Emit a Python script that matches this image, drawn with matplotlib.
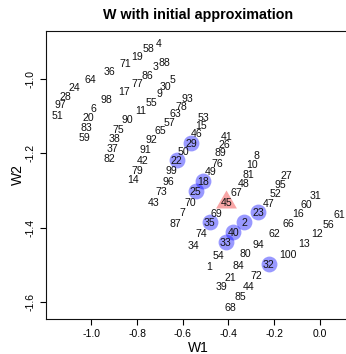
import matplotlib
matplotlib.use("Agg")
import matplotlib.pyplot as plt
from matplotlib.path import Path

plt.rcParams['font.family'] = ['Liberation Sans', 'DejaVu Sans']

# Coordinates of the 100 units (index i -> unit i+1)
w1 = [-0.485, -0.331, -0.721, -0.706, -0.643, -0.993, -0.601, -0.276, -0.703, -0.295,
      -0.785, -0.011, -0.069, -0.818, -0.521, -0.095, -0.859, -0.512, -0.800, -1.014,
      -0.390, -0.626, -0.269, -1.076, -0.543, -0.419, -0.145, -1.112, -0.563, -0.677,
      -0.021, -0.223, -0.412, -0.553, -0.483, -0.920, -0.908, -0.898, -0.429, -0.379,
      -0.407, -0.775, -0.726, -0.312, -0.410, -0.538, -0.225, -0.332, -0.480, -0.597,
      -1.148, -0.194, -0.510, -0.444, -0.738, 0.038, -0.658, -0.752, -1.032, -0.060,
      0.086, -0.197, -0.633, -1.004, -0.699, -0.138, -0.364, -0.393, -0.451, -0.568,
      -0.850, -0.276, -0.693, -0.517, -0.881, -0.451, -0.800, -0.607, -0.798, -0.326,
      -0.314, -0.920, -1.022, -0.357, -0.349, -0.757, -0.633, -0.680, -0.434, -0.843,
      -0.764, -0.738, -0.579, -0.269, -0.171, -0.665, -1.135, -0.934, -0.648, -0.142]
w2 = [-1.502, -1.385, -0.966, -0.903, -1.001, -1.078, -1.358, -1.206, -1.038, -1.229,
      -1.085, -1.413, -1.440, -1.269, -1.125, -1.360, -1.032, -1.274, -0.938, -1.103,
      -1.531, -1.219, -1.358, -1.023, -1.302, -1.176, -1.259, -1.047, -1.172, -1.019,
      -1.311, -1.498, -1.438, -1.446, -1.385, -0.979, -1.185, -1.158, -1.557, -1.412,
      -1.154, -1.217, -1.330, -1.557, -1.331, -1.147, -1.333, -1.280, -1.249, -1.194,
      -1.098, -1.307, -1.103, -1.473, -1.062, -1.389, -1.116, -0.918, -1.157, -1.335,
      -1.364, -1.413, -1.093, -1.000, -1.139, -1.387, -1.303, -1.613, -1.360, -1.330,
      -0.958, -1.527, -1.301, -1.415, -1.134, -1.225, -1.012, -1.074, -1.244, -1.469,
      -1.256, -1.212, -1.130, -1.501, -1.584, -0.989, -1.387, -0.956, -1.198, -1.109,
      -1.189, -1.163, -1.052, -1.444, -1.282, -1.274, -1.069, -1.054, -1.245, -1.470]
unit_labels = [str(i + 1) for i in range(len(w1))]

# Units picked as the initial approximation, and the starting unit
initial_units = [29, 22, 18, 25, 35, 40, 33, 2, 23, 32]
start_unit = 45

x_ticks = [-1.0, -0.8, -0.6, -0.4, -0.2, 0.0]
y_ticks = [-1.6, -1.4, -1.2, -1.0]

# Filled triangle centred on its centroid
tri = Path([(0, 1.0), (-0.866, -0.5), (0.866, -0.5), (0, 1.0)],
           [Path.MOVETO, Path.LINETO, Path.LINETO, Path.CLOSEPOLY])

W, H = 346, 354
fig = plt.figure(figsize=(W / 100, H / 100), dpi=100)
left, right, top, bottom = 46, 350, 31, 319
ax = fig.add_axes([left / W, 1 - bottom / H, (right - left) / W, (bottom - top) / H])

ax.scatter([w1[u - 1] for u in initial_units], [w2[u - 1] for u in initial_units],
           s=130, color='#0000ff', alpha=0.4, linewidths=0, zorder=2)
ax.scatter([w1[start_unit - 1]], [w2[start_unit - 1]], marker=tri, s=300,
           color='#f24d4d', alpha=0.5, linewidths=0, zorder=2)

for x, y, t in zip(w1, w2, unit_labels):
    ax.text(x, y, t, ha='center', va='center_baseline', fontsize=7.6,
            color='#111111', zorder=3)

ax.set_xlim(-1.199, 0.132)
ax.set_ylim(-1.645, -0.872)
ax.set_xticks(x_ticks)
ax.set_yticks(y_ticks)
ax.set_xticklabels([f"{v:.1f}" for v in x_ticks])
ax.set_yticklabels([f"{v:.1f}" for v in y_ticks])
ax.tick_params(axis='both', direction='out', length=4.5, width=0.8,
               labelsize=7.5, pad=3)
for lbl in ax.get_yticklabels():
    lbl.set_rotation(90)
    lbl.set_va('center')

for sp in ax.spines.values():
    sp.set_linewidth(0.8)
    sp.set_color('#111111')

ax.set_xlabel('W1', fontsize=10)
ax.set_ylabel('W2', fontsize=10)
ax.xaxis.label.set_va('center')
ax.yaxis.label.set_va('center')
ax.xaxis.set_label_coords(0.5, (bottom - 348) / (bottom - top))
ax.yaxis.set_label_coords((18 - left) / (right - left), 0.5)

ax.text(0.5, (bottom - 15) / (bottom - top), 'W with initial approximation',
        transform=ax.transAxes, ha='center', va='center', fontsize=10.3,
        fontweight='bold')

fig.savefig('out.png', dpi=100)
